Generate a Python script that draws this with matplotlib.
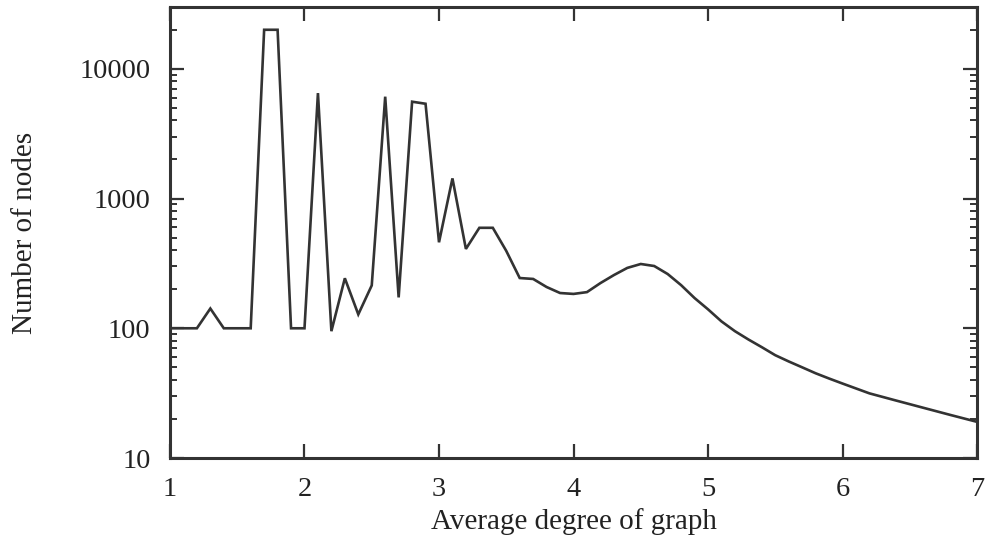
import numpy as np
import matplotlib.pyplot as plt
from matplotlib.ticker import FixedLocator, LogLocator, NullFormatter

# Average degree of graph vs number of nodes
avg_degree = [1.0, 1.1, 1.2, 1.3, 1.4, 1.5, 1.6, 1.7, 1.8, 1.9,
              2.0, 2.1, 2.2, 2.3, 2.4, 2.5, 2.6, 2.7, 2.8, 2.9,
              3.0, 3.1, 3.2, 3.3, 3.4, 3.5, 3.6, 3.7, 3.8, 3.9,
              4.0, 4.1, 4.2, 4.3, 4.4, 4.5, 4.6, 4.7, 4.8, 4.9,
              5.0, 5.1, 5.2, 5.3, 5.4, 5.5, 5.6, 5.7, 5.8, 5.9,
              6.0, 6.2, 6.4, 6.6, 6.8, 7.0]
num_nodes = [100, 100, 100, 142, 100, 100, 100, 20000, 20000, 100,
             100, 6500, 95, 243, 128, 214, 6100, 173, 5580, 5380,
             460, 1430, 409, 595, 595, 395, 244, 240, 208, 187,
             184, 190, 223, 257, 292, 313, 302, 262, 215, 171,
             140, 113, 95, 82, 71.5, 62, 55.5, 50, 45, 41,
             37.5, 31.5, 27.7, 24.4, 21.5, 19]

x_ticks = [1, 2, 3, 4, 5, 6, 7]
y_ticks = [10, 100, 1000, 10000]
y_tick_labels = ["10", "100", "1000", "10000"]

plt.rcParams["font.family"] = ["Liberation Serif", "DejaVu Serif"]

fig = plt.figure(figsize=(9.86, 5.37), dpi=100)
ax = fig.add_axes([0.1724, 0.1471, 0.8185, 0.84])

ink = "#333333"
ax.plot(avg_degree, num_nodes, color=ink, linewidth=1.9, solid_joinstyle="miter")

ax.set_yscale("log")
ax.set_xlim(1, 7)
ax.set_ylim(10, 30000)

ax.xaxis.set_major_locator(FixedLocator(x_ticks))
ax.set_xticklabels([str(t) for t in x_ticks])
ax.yaxis.set_major_locator(FixedLocator(y_ticks))
ax.set_yticklabels(y_tick_labels)
ax.yaxis.set_minor_locator(LogLocator(base=10, subs=np.arange(2, 10)))
ax.yaxis.set_minor_formatter(NullFormatter())

ax.tick_params(axis="both", which="major", direction="in", length=10, width=1.6,
               colors=ink, labelsize=20.5, top=True, right=True, pad=14)
ax.tick_params(axis="y", which="minor", direction="in", length=5, width=1.4,
               colors=ink, right=True)
ax.tick_params(axis="x", which="minor", bottom=False, top=False)
for lbl in ax.get_xticklabels() + ax.get_yticklabels():
    lbl.set_color("#222222")

for sp in ax.spines.values():
    sp.set_linewidth(2.2)
    sp.set_color(ink)

ax.set_xlabel("Average degree of graph", fontsize=21, color="#222222", labelpad=4)
ax.set_ylabel("Number of nodes", fontsize=21, color="#222222", labelpad=30)

fig.savefig("out.png", dpi=100)
